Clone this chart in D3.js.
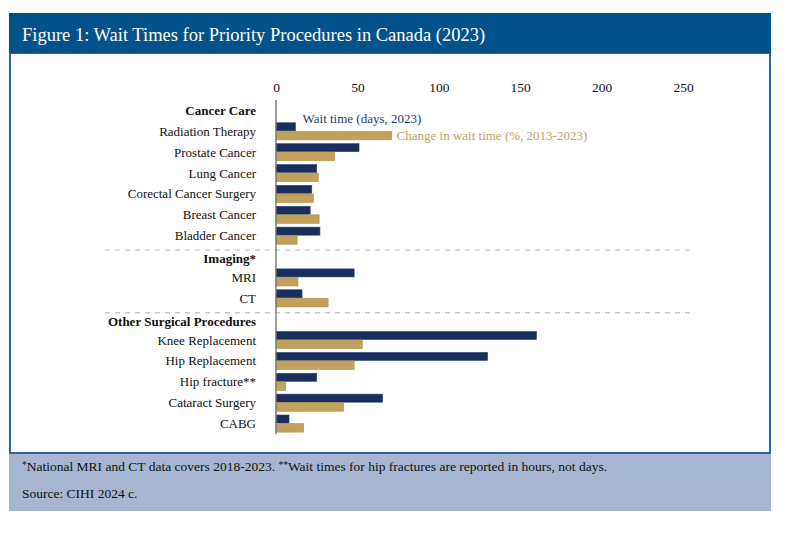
<!DOCTYPE html>
<html>
<head>
<meta charset="utf-8">
<script src="https://cdn.jsdelivr.net/npm/d3@7"></script>
<style>
  body { margin: 0; background: #fff; }
  text { font-family: "Liberation Serif", "DejaVu Serif", serif; }
</style>
</head>
<body>
<div id="vis"></div>
<script>
// rows of the chart, headers are rows without bars
const rows = ['Cancer Care', 'Radiation Therapy', 'Prostate Cancer', 'Lung Cancer',
  'Corectal Cancer Surgery', 'Breast Cancer', 'Bladder Cancer',
  'Imaging*', 'MRI', 'CT',
  'Other Surgical Procedures', 'Knee Replacement', 'Hip Replacement',
  'Hip fracture**', 'Cataract Surgery', 'CABG']
const headers = ['Cancer Care', 'Imaging*', 'Other Surgical Procedures']

// data rows and values
const procedures = ['Radiation Therapy', 'Prostate Cancer', 'Lung Cancer',
  'Corectal Cancer Surgery', 'Breast Cancer', 'Bladder Cancer', 'MRI', 'CT',
  'Knee Replacement', 'Hip Replacement', 'Hip fracture**', 'Cataract Surgery', 'CABG']
const waitDays = [12, 51, 25, 22, 21, 27, 48, 16, 160, 130, 25, 65.5, 8]
const changePct = [71, 36, 26, 23, 26.5, 13, 13.5, 32, 53, 48, 6, 41.5, 17]

const series = ['Wait time (days, 2023)', 'Change in wait time (%, 2013-2023)']
const ticks = [0, 50, 100, 150, 200, 250]

const navy = '#172f5a'
const gold = '#c2a15c'

const width = 800
const height = 534

const svg = d3.select('#vis')
  .append('svg')
  .attr('width', width)
  .attr('height', height)

// Frame: header band, white panel, footer band
svg.append('rect')
  .attr('x', 10).attr('y', 53).attr('width', 760).attr('height', 400)
  .attr('fill', '#fff').attr('stroke', '#2b64a0').attr('stroke-width', 2)
svg.append('rect')
  .attr('x', 9).attr('y', 13).attr('width', 762).attr('height', 40)
  .attr('fill', '#04528b')
svg.append('rect')
  .attr('x', 9).attr('y', 453).attr('width', 762).attr('height', 58)
  .attr('fill', '#a7b5d0')
svg.append('line')
  .attr('x1', 9).attr('x2', 771).attr('y1', 453).attr('y2', 453)
  .attr('stroke', '#2b64a0').attr('stroke-width', 2)

svg.append('text')
  .attr('x', 22).attr('y', 41)
  .attr('fill', '#fff')
  .attr('font-size', 18.5)
  .text('Figure 1: Wait Times for Priority Procedures in Canada (2023)')

// footer notes
const note = svg.append('text')
  .attr('x', 22).attr('y', 471)
  .attr('font-size', 13.5)
  .attr('fill', '#111')
note.append('tspan').attr('font-size', 9.5).attr('dy', -3).text('*')
note.append('tspan').attr('dy', 3).text('National MRI and CT data covers 2018-2023. ')
note.append('tspan').attr('font-size', 9.5).attr('dy', -3).text('**')
note.append('tspan').attr('dy', 3).text('Wait times for hip fractures are reported in hours, not days.')

svg.append('text')
  .attr('x', 22).attr('y', 498)
  .attr('font-size', 13.5)
  .attr('fill', '#111')
  .text('Source: CIHI 2024 c.')

// scales
const xScale = d3.scaleLinear()
  .domain([0, 250])
  .range([276, 683])

const yScale = d3.scaleBand()
  .domain(rows)
  .range([100, 434])
  .paddingInner(0.18)
  .paddingOuter(0.09)

const step = yScale.step()

// top axis, numbers only
const axis = svg.append('g')
  .attr('transform', 'translate(0, 92)')
  .call(d3.axisTop(xScale).tickValues(ticks).tickSize(0).tickPadding(0))
axis.select('.domain').remove()
axis.selectAll('text')
  .attr('font-family', '"Liberation Serif", serif')
  .attr('font-size', 13.5)
  .attr('fill', '#111')

// dashed separators above the group headers
svg.append('g').selectAll('line')
  .data(headers.slice(1))
  .enter()
  .append('line')
  .attr('x1', 105).attr('x2', 692)
  .attr('y1', h => yScale(h) - step * 0.09 + 4)
  .attr('y2', h => yScale(h) - step * 0.09 + 4)
  .attr('stroke', '#c8c8c8')
  .attr('stroke-width', 1.3)
  .attr('stroke-dasharray', '5,5')

// row labels
svg.append('g').selectAll('text')
  .data(rows)
  .enter()
  .append('text')
  .attr('x', 256)
  .attr('y', r => yScale(r) + yScale.bandwidth() / 2 + (headers.includes(r) && r !== 'Cancer Care' ? 2 : 0))
  .attr('dy', '0.35em')
  .attr('text-anchor', 'end')
  .attr('font-size', 13)
  .attr('font-weight', r => headers.includes(r) ? 'bold' : 'normal')
  .attr('fill', '#111')
  .text(r => r)

// bars
const barH = yScale.bandwidth() / 2
const bars = svg.append('g')

bars.selectAll('.wait')
  .data(procedures)
  .enter()
  .append('rect')
  .attr('class', 'wait')
  .attr('x', xScale(0))
  .attr('y', (p) => yScale(p))
  .attr('width', (p, i) => xScale(waitDays[i]) - xScale(0))
  .attr('height', barH - 0.5)
  .attr('fill', navy)
  .attr('stroke', '#2c4674')
  .attr('stroke-width', 0.6)

bars.selectAll('.change')
  .data(procedures)
  .enter()
  .append('rect')
  .attr('class', 'change')
  .attr('x', xScale(0))
  .attr('y', (p) => yScale(p) + barH)
  .attr('width', (p, i) => xScale(changePct[i]) - xScale(0))
  .attr('height', barH)
  .attr('fill', gold)
  .attr('stroke', '#b08f4c')
  .attr('stroke-width', 0.6)

// vertical zero line
svg.append('line')
  .attr('x1', xScale(0)).attr('x2', xScale(0))
  .attr('y1', 100).attr('y2', 434)
  .attr('stroke', '#777')
  .attr('stroke-width', 1.4)

// legend text placed next to the first row's bars
const first = procedures[0]
svg.append('text')
  .attr('x', xScale(waitDays[0]) + 7)
  .attr('y', yScale(first) - 4)
  .attr('dy', '0.35em')
  .attr('font-size', 13)
  .attr('fill', '#1f3a6a')
  .text(series[0])

svg.append('text')
  .attr('x', xScale(changePct[0]) + 5)
  .attr('y', yScale(first) + barH * 1.5)
  .attr('dy', '0.35em')
  .attr('font-size', 13)
  .attr('fill', gold)
  .text(series[1])
</script>
</body>
</html>
